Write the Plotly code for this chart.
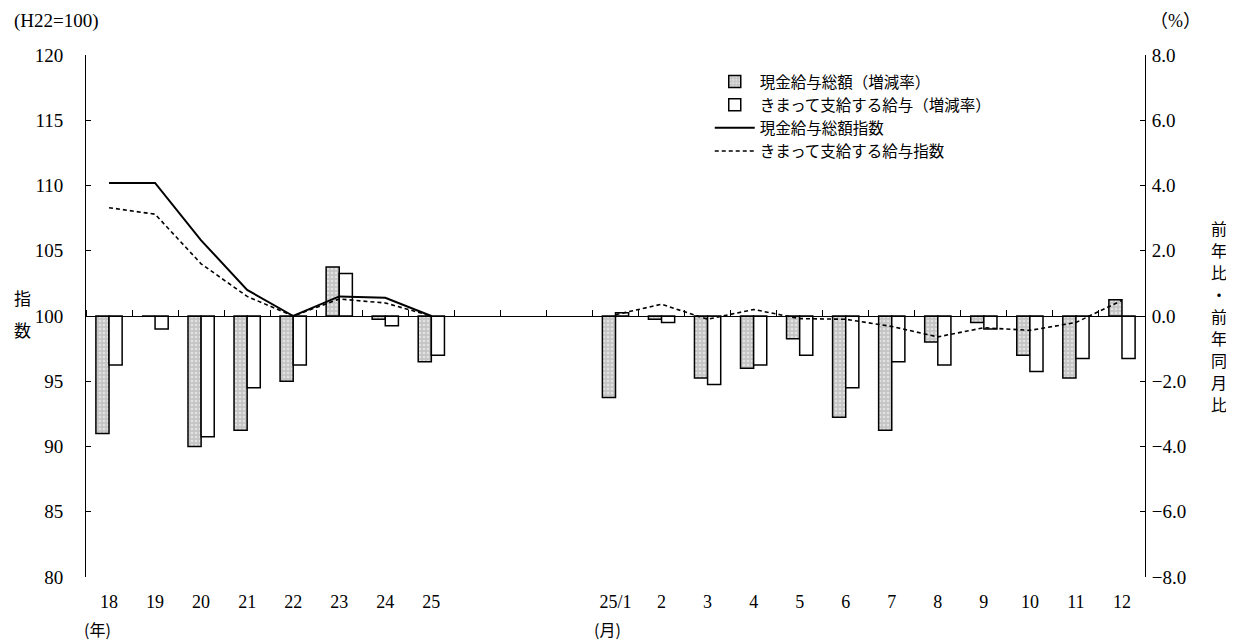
import plotly.graph_objects as go

# ---- data ----
years = ["18", "19", "20", "21", "22", "23", "24", "25"]
gaps = ["gap1", "gap2", "gap3"]
months = ["25/1", "2", "3", "4", "5", "6", "7", "8", "9", "10", "11", "12"]
categories = ["y18", "y19", "y20", "y21", "y22", "y23", "y24", "y25"] + gaps + \
    ["m1", "m2", "m3", "m4", "m5", "m6", "m7", "m8", "m9", "m10", "m11", "m12"]
tick_labels = years + ["", "", ""] + months

# 現金給与総額(増減率) %
cash_rate = [-3.6, 0.0, -4.0, -3.5, -2.0, 1.5, -0.1, -1.4] + [None] * 3 + \
    [-2.5, -0.1, -1.9, -1.6, -0.7, -3.1, -3.5, -0.8, -0.2, -1.2, -1.9, 0.5]
# きまって支給する給与(増減率) %
fixed_rate = [-1.5, -0.4, -3.7, -2.2, -1.5, 1.3, -0.3, -1.2] + [None] * 3 + \
    [0.1, -0.2, -2.1, -1.5, -1.2, -2.2, -1.4, -1.5, -0.4, -1.7, -1.3, -1.3]
# 現金給与総額指数
cash_index = [110.2, 110.2, 105.8, 102.0, 100.0, 101.5, 101.4, 100.0] + [None] * 15
# きまって支給する給与指数
fixed_index = [108.3, 107.8, 104.0, 101.5, 100.0, 101.3, 101.0, 100.0] + [None] * 3 + \
    [100.1, 100.9, 99.75, 100.5, 99.8, 99.75, 99.2, 98.4, 99.1, 98.9, 99.5, 101.2]

right_title_chars = ["前", "年", "比", "・", "前", "年", "同", "月", "比"]

NUM_FONT = "Liberation Serif, Noto Sans CJK JP"
JP_FONT = "Noto Sans CJK JP"

fig = go.Figure()

# bars on the % axis (main y, right side)
fig.add_trace(go.Bar(
    x=categories, y=cash_rate, name="現金給与総額（増減率）",
    xaxis="x", yaxis="y",
    marker=dict(color="#d0d0d0", line=dict(color="black", width=1.5),
                pattern=dict(shape=".", fgcolor="#ffffff", bgcolor="#c4c4c4",
                             size=4, solidity=0.35)),
))
fig.add_trace(go.Bar(
    x=categories, y=fixed_rate, name="きまって支給する給与（増減率）",
    xaxis="x", yaxis="y",
    marker=dict(color="white", line=dict(color="black", width=1.5)),
))
# index lines on the overlaying left axis (drawn above the bars)
fig.add_trace(go.Scatter(
    x=categories, y=cash_index, name="現金給与総額指数",
    xaxis="x", yaxis="y2", mode="lines",
    line=dict(color="black", width=2),
))
fig.add_trace(go.Scatter(
    x=categories, y=fixed_index, name="きまって支給する給与指数",
    xaxis="x", yaxis="y2", mode="lines",
    line=dict(color="black", width=1.6, dash="4px,3px"),
))
# invisible helper so that the middle (H22=100 baseline) category axis is built
fig.add_trace(go.Scatter(
    x=categories, y=fixed_index, xaxis="x2", yaxis="y2", mode="lines",
    line=dict(width=1, color="rgba(0,0,0,0)"), showlegend=False, hoverinfo="skip",
))

axis_common = dict(type="category", categoryorder="array", categoryarray=categories,
                   range=[-0.5, len(categories) - 0.5])

# the page body has an 8px margin, so the figure is 8px smaller and margins shifted
fig.update_layout(
    width=1226, height=634,
    margin=dict(l=78, r=89, t=47, b=65),
    plot_bgcolor="white", paper_bgcolor="white",
    barmode="group", bargap=0.43, bargroupgap=0.0,
    font=dict(family=NUM_FONT, size=16, color="black"),
    showlegend=True,
    legend=dict(x=0.589, y=0.981, xanchor="left", yanchor="top",
                bgcolor="rgba(0,0,0,0)", traceorder="normal",
                font=dict(family=JP_FONT, size=15.5, color="black"),
                tracegroupgap=0, itemwidth=40),
    xaxis=dict(**axis_common, tickvals=categories, ticktext=tick_labels,
               showline=False, showgrid=False, zeroline=False,
               ticks="outside", ticklen=8, tickcolor="rgba(0,0,0,0)",
               tickfont=dict(family=NUM_FONT, size=18)),
    xaxis2=dict(**axis_common, overlaying="x", anchor="free", position=0.5,
                side="top", showline=True, linecolor="black", linewidth=1,
                showgrid=False, zeroline=False, showticklabels=False,
                ticks="outside", ticklen=6, tickcolor="black",
                tickson="boundaries"),
    yaxis=dict(range=[-8, 8], dtick=2, tick0=-8, side="right", anchor="x",
               tickformat=".1f",
               showline=True, linecolor="black", linewidth=1,
               showgrid=False, zeroline=False,
               ticks="inside", ticklen=5, tickcolor="black",
               ticklabelstandoff=2,
               tickfont=dict(family=NUM_FONT, size=19)),
    yaxis2=dict(range=[80, 120], dtick=5, tick0=80, overlaying="y", side="left",
                anchor="x",
                showline=True, linecolor="black", linewidth=1,
                showgrid=False, zeroline=False,
                ticks="inside", ticklen=5, tickcolor="black",
                ticklabelstandoff=18,
                tickfont=dict(family=NUM_FONT, size=19)),
)

annots = [
    dict(text="(H22=100)", x=(12 - 86) / 1059, y=(577 - 21) / 522, xanchor="left",
         yanchor="middle", font=dict(family=NUM_FONT, size=19)),
    dict(text="（%）", x=(1175 - 86) / 1059, y=(577 - 21) / 522, xanchor="center",
         yanchor="middle", font=dict(family=NUM_FONT, size=18)),
    dict(text="指", x=(22 - 86) / 1059, y=(577 - 297) / 522, xanchor="center",
         yanchor="middle", font=dict(family=JP_FONT, size=17)),
    dict(text="数", x=(22 - 86) / 1059, y=(577 - 329) / 522, xanchor="center",
         yanchor="middle", font=dict(family=JP_FONT, size=17)),
    dict(text="(年)", x=(82 - 86) / 1059, y=(577 - 629) / 522, xanchor="left",
         yanchor="middle", font=dict(family=JP_FONT, size=16)),
    dict(text="(月)", x=(592 - 86) / 1059, y=(577 - 629) / 522, xanchor="left",
         yanchor="middle", font=dict(family=JP_FONT, size=16)),
]
# vertical right-hand title, one character per row (~22px apart, centred on 0.0)
for i, ch in enumerate(right_title_chars):
    ypix = 316 + (i - 4) * 22
    annots.append(dict(text=ch, x=(1219 - 86) / 1059, y=(577 - ypix) / 522,
                       xanchor="center", yanchor="middle",
                       font=dict(family=JP_FONT, size=16)))
for a in annots:
    fig.add_annotation(xref="paper", yref="paper", showarrow=False, **a)

fig.write_html("out.html")
